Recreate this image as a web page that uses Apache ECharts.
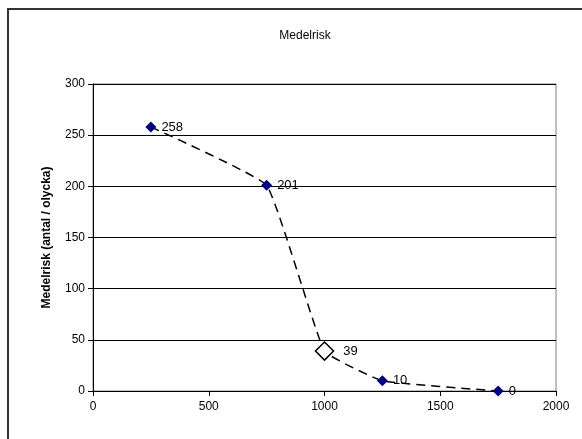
<!DOCTYPE html>
<html>
<head>
<meta charset="utf-8">
<script src="https://cdn.jsdelivr.net/npm/echarts@6/dist/echarts.min.js"></script>
<style>
html,body{margin:0;padding:0;background:#fff;}
#chart{width:582px;height:439px;}
</style>
</head>
<body>
<div id="chart"></div>
<script>
var titleText = 'Medelrisk';
var yAxisName = 'Medelrisk (antal / olycka)';
var xValues = [250, 750, 1000, 1250, 1750];
var yValues = [258, 201, 39, 10, 0];
var highlightIndex = 2;
var xTicks = [0, 500, 1000, 1500, 2000];
var yTicks = [0, 50, 100, 150, 200, 250, 300];

var FONT = 'Liberation Sans, Arial, sans-serif';
var chart = echarts.init(document.getElementById('chart'), null, {renderer: 'canvas'});
var data = xValues.map(function (x, i) {
  var item = {value: [x, yValues[i]]};
  if (i === highlightIndex) {
    item.symbolSize = 18;
    item.itemStyle = {color: '#ffffff', borderColor: '#000000', borderWidth: 1.5};
    item.label = {distance: 9};
  }
  return item;
});

chart.setOption({
  animation: false,
  backgroundColor: '#ffffff',
  textStyle: {fontFamily: FONT},
  graphic: [{
    type: 'rect',
    shape: {x: 8, y: 9, width: 640, height: 480},
    style: {fill: null, stroke: '#333333', lineWidth: 2},
    z: 100
  }],
  title: {
    text: titleText,
    left: 300,
    textAlign: 'center',
    top: 25,
    textStyle: {fontSize: 12, fontWeight: 'normal', color: '#000', fontFamily: FONT}
  },
  grid: {
    left: 93, right: 26, top: 84, bottom: 48,
    show: true, borderColor: '#808080', borderWidth: 1, backgroundColor: 'transparent'
  },
  xAxis: {
    type: 'value',
    min: xTicks[0], max: xTicks[xTicks.length - 1], interval: 500,
    axisLine: {show: true, onZero: false, lineStyle: {color: '#000', width: 1}},
    axisTick: {show: true, inside: false, length: 5, lineStyle: {color: '#000'}},
    axisLabel: {color: '#000', fontSize: 12, margin: 10, fontFamily: FONT,
      formatter: function (v) { return String(v); }},
    splitLine: {show: false}
  },
  yAxis: {
    type: 'value',
    min: yTicks[0], max: yTicks[yTicks.length - 1], interval: 50,
    name: yAxisName,
    nameLocation: 'middle',
    nameGap: 40,
    nameTextStyle: {fontSize: 12, fontWeight: 'bold', color: '#000', fontFamily: FONT},
    axisLine: {show: true, lineStyle: {color: '#000', width: 1}},
    axisTick: {show: true, inside: false, length: 5, lineStyle: {color: '#000'}},
    axisLabel: {color: '#000', fontSize: 12, margin: 8, fontFamily: FONT,
      formatter: function (v) { return String(v); }},
    splitLine: {show: true, lineStyle: {color: '#000', width: 1}}
  },
  series: [{
    type: 'line',
    data: data,
    smooth: 0.1,
    symbol: 'diamond',
    symbolSize: 11,
    itemStyle: {color: '#000080'},
    lineStyle: {color: '#000', width: 1.5, type: [9, 6]},
    label: {
      show: true, position: 'right', distance: 5,
      color: '#000', fontSize: 13, fontFamily: FONT,
      formatter: function (p) { return p.value[1]; }
    },
    z: 3
  }]
});
</script>
</body>
</html>
